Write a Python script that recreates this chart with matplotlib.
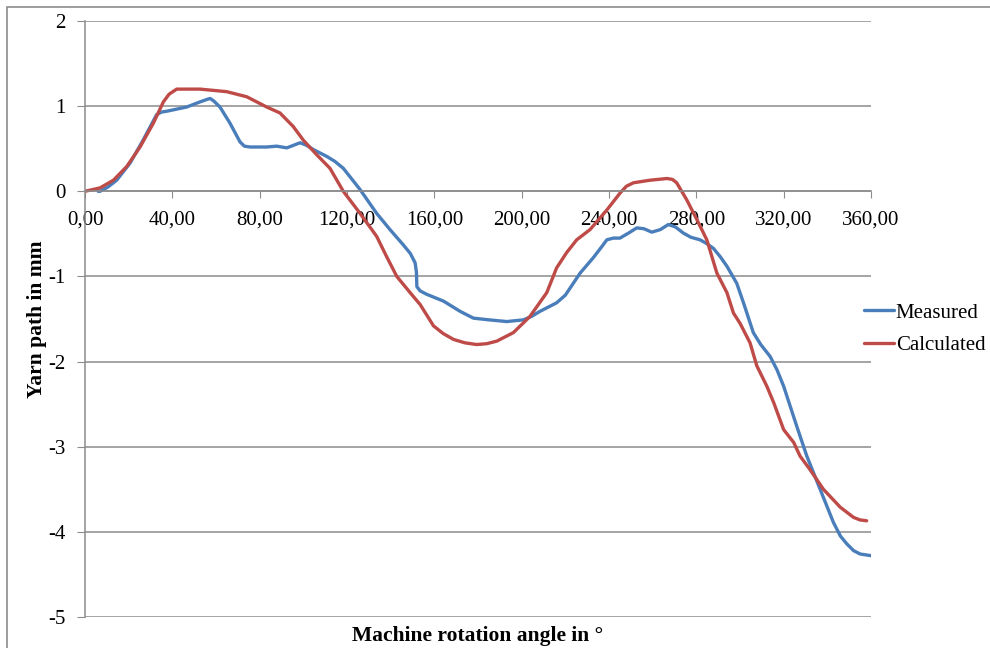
import matplotlib.pyplot as plt
from matplotlib.patches import Rectangle
from matplotlib.ticker import FuncFormatter

# values
measured_angle = [6.0, 6.9, 10.5, 14.5, 20.6, 26.6, 32.8, 35.0, 37.4, 46.6, 52.7, 56.0,
                  57.3, 59.0, 61.8, 66.4, 71.0, 73.0, 75.6, 83.2, 87.8, 92.4, 95.5, 98.5,
                  101.5, 104.6, 110.7, 114.5, 118.3, 122.0, 126.0, 133.6, 139.7, 145.8,
                  149.0, 151.2, 151.8, 152.0, 153.5, 156.5, 164.2, 171.8, 177.9, 185.0,
                  193.2, 200.8, 204.5, 208.4, 216.0, 220.0, 226.8, 232.8, 237.0, 239.0,
                  242.0, 245.0, 249.0, 252.7, 256.0, 259.6, 263.5, 267.2, 270.5, 274.0,
                  277.5, 281.7, 284.5, 287.8, 291.0, 294.0, 298.5, 301.6, 306.1, 309.5,
                  313.8, 317.0, 320.0, 326.0, 330.6, 336.7, 342.8, 346.0, 348.9, 352.0,
                  355.0, 360.0]
measured_path = [0.0, 0.0, 0.05, 0.13, 0.33, 0.60, 0.90, 0.93, 0.94, 0.99, 1.05, 1.08,
                 1.09, 1.06, 0.99, 0.80, 0.58, 0.53, 0.52, 0.52, 0.53, 0.51, 0.54, 0.57,
                 0.54, 0.49, 0.41, 0.35, 0.27, 0.15, 0.02, -0.26, -0.45, -0.63,
                 -0.73, -0.84, -0.95, -1.12, -1.17, -1.21, -1.29, -1.41, -1.49, -1.51,
                 -1.53, -1.51, -1.47, -1.41, -1.31, -1.22, -0.96, -0.78, -0.64, -0.57,
                 -0.55, -0.55, -0.49, -0.43, -0.44, -0.48, -0.45, -0.39, -0.42, -0.49,
                 -0.54, -0.57, -0.61, -0.67, -0.77, -0.88, -1.08, -1.31, -1.66, -1.80,
                 -1.94, -2.10, -2.29, -2.76, -3.11, -3.50, -3.89, -4.05, -4.14, -4.22,
                 -4.26, -4.28]

calc_angle = [0.0, 6.9, 13.0, 19.1, 25.2, 31.3, 35.9, 38.5, 42.0, 46.0, 52.7, 64.9,
              74.1, 83.2, 89.3, 95.4, 100.0, 106.1, 112.2, 118.3, 126.0, 133.6, 138.0,
              142.8, 148.9, 153.5, 159.6, 164.0, 168.8, 174.0, 179.4, 184.0, 188.6,
              196.2, 203.8, 211.5, 216.0, 220.6, 225.2, 231.3, 239.0, 245.1, 248.0,
              251.2, 258.8, 266.5, 269.0, 271.0, 275.6, 280.2, 284.8, 289.4, 294.0,
              297.0, 300.0, 304.6, 307.7, 312.3, 315.4, 320.0, 324.6, 327.5, 332.1,
              338.2, 345.9, 352.0, 355.0, 358.0]
calc_path = [0.0, 0.04, 0.13, 0.29, 0.52, 0.80, 1.05, 1.14, 1.20, 1.20, 1.20, 1.17,
             1.11, 0.99, 0.92, 0.76, 0.60, 0.43, 0.27, 0.0, -0.26, -0.53, -0.76,
             -1.0, -1.19, -1.33, -1.58, -1.67, -1.74, -1.78, -1.80, -1.79, -1.76,
             -1.66, -1.47, -1.19, -0.90, -0.72, -0.57, -0.45, -0.22, -0.02, 0.06,
             0.10, 0.13, 0.15, 0.14, 0.10, -0.10, -0.33, -0.57, -0.96, -1.19,
             -1.43, -1.55, -1.78, -2.05, -2.29, -2.48, -2.80, -2.95, -3.11, -3.27,
             -3.50, -3.71, -3.83, -3.86, -3.87]

x_ticks = [0, 40, 80, 120, 160, 200, 240, 280, 320, 360]
y_ticks = [2, 1, 0, -1, -2, -3, -4, -5]

plt.rcParams['font.family'] = ['Liberation Serif', 'DejaVu Serif']
grid_color = '#8c8c8c'

fig = plt.figure(figsize=(9.9, 6.48), dpi=100)
ax = fig.add_axes([85 / 990, 1 - 617 / 648, (871 - 85) / 990, (617 - 21) / 648])

# outer chart frame
fig.patches.append(Rectangle((7 / 990, -0.05), 1.1, 1.05 - 7 / 648, transform=fig.transFigure,
                             fill=False, edgecolor=grid_color, linewidth=1.2))

ax.plot(measured_angle, measured_path, color='#4A7EBB', linewidth=2.4, label='Measured',
        solid_joinstyle='round', solid_capstyle='round')
ax.plot(calc_angle, calc_path, color='#BE4B48', linewidth=2.4, label='Calculated',
        solid_joinstyle='round', solid_capstyle='round')

ax.set_xlim(0, 360)
ax.set_ylim(-5, 2)
ax.set_xticks(x_ticks)
ax.set_yticks(y_ticks)
ax.xaxis.set_major_formatter(FuncFormatter(lambda v, p: f"{v:.2f}".replace('.', ',')))
ax.yaxis.set_major_formatter(FuncFormatter(lambda v, p: f"{int(v)}"))

ax.grid(axis='y', color=grid_color, linewidth=1.1)
ax.set_axisbelow(True)
ax.spines['top'].set_visible(False)
ax.spines['right'].set_visible(False)
ax.spines['bottom'].set_position(('data', 0))
ax.spines['bottom'].set_color(grid_color)
ax.spines['left'].set_color(grid_color)
ax.spines['bottom'].set_linewidth(1.1)
ax.spines['left'].set_linewidth(1.1)
ax.tick_params(axis='x', direction='out', length=5, color=grid_color, labelsize=15, pad=9)
ax.tick_params(axis='y', direction='out', length=6, color=grid_color, labelsize=15, pad=8)

fig.text(478 / 990, 1 - 636 / 648, 'Machine rotation angle in °', ha='center', va='center',
         fontsize=15.5, fontweight='bold')
fig.text(37 / 990, 1 - 319 / 648, 'Yarn path in mm', ha='center', va='center',
         rotation=90, fontsize=15.5, fontweight='bold')

ax.legend(loc='center left', bbox_to_anchor=(864 / 990, 1 - 329 / 648),
          bbox_transform=fig.transFigure, frameon=False, fontsize=15,
          handlelength=1.45, handletextpad=0.08, labelspacing=0.6, borderaxespad=0,
          borderpad=0)

fig.savefig('out.png', dpi=100)
